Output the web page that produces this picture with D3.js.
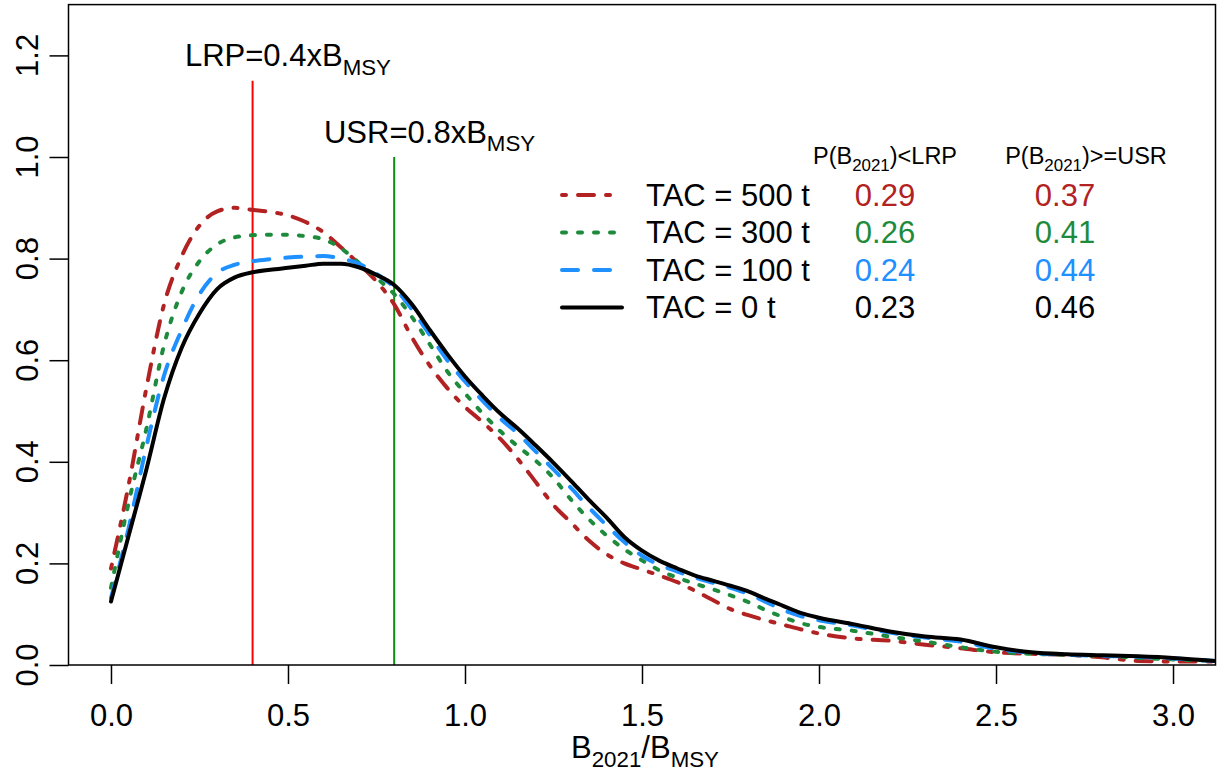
<!DOCTYPE html>
<html>
<head>
<meta charset="utf-8">
<script src="https://cdn.jsdelivr.net/npm/d3@7/dist/d3.min.js"></script>
<style>
  html, body { margin: 0; padding: 0; background: #fff; }
  svg { display: block; font-family: "Liberation Sans", Arial, sans-serif; }
</style>
</head>
<body>
<svg id="chart" width="1217" height="780"></svg>
<script>
// ---- data ----
const xs = [0, 0.05, 0.1, 0.15, 0.2, 0.25, 0.3, 0.35, 0.4, 0.45, 0.5, 0.55, 0.6, 0.65, 0.7, 0.75, 0.8, 0.85, 0.9, 0.95,
            1.0, 1.05, 1.1, 1.15, 1.2, 1.25, 1.3, 1.35, 1.4, 1.45, 1.5, 1.55, 1.6, 1.65, 1.7, 1.75, 1.8, 1.85, 1.9, 1.95,
            2.0, 2.1, 2.2, 2.3, 2.4, 2.5, 2.6, 2.7, 2.8, 2.9, 3.0, 3.12];
const tac0 = [0.125, 0.255, 0.385, 0.525, 0.625, 0.692, 0.74, 0.763, 0.773, 0.778, 0.782, 0.786, 0.79, 0.79, 0.783, 0.768, 0.748, 0.71, 0.66, 0.612,
              0.568, 0.53, 0.495, 0.465, 0.432, 0.398, 0.362, 0.325, 0.29, 0.252, 0.225, 0.205, 0.19, 0.176, 0.166, 0.156, 0.145, 0.13, 0.116, 0.102,
              0.093, 0.08, 0.066, 0.056, 0.05, 0.035, 0.025, 0.021, 0.019, 0.017, 0.014, 0.008];
const tac100 = [0.132, 0.27, 0.43, 0.57, 0.66, 0.73, 0.772, 0.788, 0.795, 0.799, 0.802, 0.804, 0.805, 0.8, 0.79, 0.77, 0.743, 0.7, 0.65, 0.6,
                0.558, 0.52, 0.485, 0.455, 0.42, 0.385, 0.348, 0.31, 0.275, 0.242, 0.215, 0.197, 0.184, 0.172, 0.162, 0.152, 0.14, 0.124, 0.108, 0.096,
                0.088, 0.077, 0.064, 0.054, 0.046, 0.032, 0.024, 0.02, 0.018, 0.016, 0.013, 0.008];
const tac300 = [0.152, 0.32, 0.465, 0.63, 0.735, 0.795, 0.828, 0.842, 0.846, 0.847, 0.847, 0.844, 0.838, 0.82, 0.792, 0.762, 0.73, 0.685, 0.632, 0.578,
                0.535, 0.495, 0.46, 0.43, 0.402, 0.368, 0.325, 0.287, 0.255, 0.228, 0.206, 0.186, 0.172, 0.16, 0.149, 0.137, 0.124, 0.108, 0.094, 0.082,
                0.075, 0.067, 0.056, 0.046, 0.035, 0.026, 0.022, 0.02, 0.018, 0.014, 0.011, 0.008];
const tac500 = [0.19, 0.355, 0.545, 0.71, 0.805, 0.865, 0.893, 0.9, 0.896, 0.892, 0.885, 0.872, 0.852, 0.822, 0.79, 0.755, 0.71, 0.645, 0.59, 0.545,
                0.508, 0.478, 0.445, 0.405, 0.36, 0.315, 0.28, 0.245, 0.218, 0.2, 0.188, 0.176, 0.163, 0.146, 0.128, 0.11, 0.098, 0.088, 0.079, 0.07,
                0.062, 0.052, 0.048, 0.04, 0.033, 0.025, 0.022, 0.02, 0.015, 0.008, 0.007, 0.007];

const seriesNames = ["TAC = 500 t", "TAC = 300 t", "TAC = 100 t", "TAC = 0 t"];
const probLRP = ["0.29", "0.26", "0.24", "0.23"];
const probUSR = ["0.37", "0.41", "0.44", "0.46"];
const xTicks = [0, 0.5, 1.0, 1.5, 2.0, 2.5, 3.0];
const yTicks = [0, 0.2, 0.4, 0.6, 0.8, 1.0, 1.2];
const refPoints = [0.4, 0.8];      // LRP, USR
const refTops = [1.15, 1.0];

// ---- styles ----
const seriesData = [tac500, tac300, tac100, tac0];
const colors = ["#B22222", "#1E8B3C", "#1E90FF", "#000000"];
const dashes = ["4,12,16,12", "4,12", "16,16", null];
const lineW = 4;

const svg = d3.select("#chart");
const x = d3.scaleLinear().domain([-0.12, 3.12]).range([68.5, 1215.5]);
const y = d3.scaleLinear().domain([0, 1.3]).range([665, 4.6]);
const FS = 31;

svg.append("defs").append("clipPath").attr("id", "clip")
  .append("rect").attr("x", x.range()[0]).attr("y", y.range()[1])
  .attr("width", x.range()[1] - x.range()[0]).attr("height", y.range()[0] - y.range()[1]);

// reference lines
const refColors = ["#FF0000", "#118A11"];
refPoints.forEach((r, i) => {
  svg.append("line").attr("x1", x(r)).attr("x2", x(r)).attr("y1", y(0)).attr("y2", y(refTops[i]))
    .attr("stroke", refColors[i]).attr("stroke-width", 2);
});

// curves
const line = d3.line().x(d => x(d[0])).y(d => y(d[1])).curve(d3.curveMonotoneX);
const g = svg.append("g").attr("clip-path", "url(#clip)");
seriesData.forEach((s, i) => {
  g.append("path").datum(xs.map((v, j) => [v, s[j]]))
    .attr("d", line).attr("fill", "none").attr("stroke", colors[i])
    .attr("stroke-width", lineW).attr("stroke-linecap", "round").attr("stroke-linejoin", "round")
    .attr("stroke-dasharray", dashes[i]);
});

// box
svg.append("rect").attr("x", x.range()[0]).attr("y", y.range()[1])
  .attr("width", x.range()[1] - x.range()[0]).attr("height", y.range()[0] - y.range()[1])
  .attr("fill", "none").attr("stroke", "#000").attr("stroke-width", 1.5);

// axes
const xAxis = d3.axisBottom(x).tickValues(xTicks).tickFormat(d3.format(".1f")).tickSize(19).tickPadding(20);
const xg = svg.append("g").attr("transform", `translate(0,${y(0)})`).call(xAxis);
xg.select(".domain").remove();
xg.selectAll("line").attr("stroke", "#000").attr("stroke-width", 1.5);
xg.selectAll("text").attr("font-size", FS).attr("font-family", "Liberation Sans, Arial, sans-serif").attr("fill", "#000");

const yAxis = d3.axisLeft(y).tickValues(yTicks).tickFormat(d3.format(".1f")).tickSize(19).tickPadding(0);
const yg = svg.append("g").attr("transform", `translate(${x.range()[0]},0)`).call(yAxis);
yg.select(".domain").remove();
yg.selectAll("line").attr("stroke", "#000").attr("stroke-width", 1.5);
yg.selectAll("text").remove();
yTicks.forEach(t => {
  svg.append("text").attr("transform", `translate(27,${y(t)}) rotate(-90)`)
    .attr("text-anchor", "middle").attr("dominant-baseline", "central")
    .attr("font-size", FS).text(d3.format(".1f")(t));
});

// helper for text with subscript parts: parts = [[text, isSub], ...]
function richText(sel, parts, size) {
  parts.forEach(p => {
    const t = sel.append("tspan").text(p[0]);
    if (p[1]) {
      t.attr("font-size", size * 0.72).attr("dy", size * 0.28);
    } else {
      t.attr("font-size", size);
      if (sel.node().childNodes.length > 1) t.attr("dy", -size * 0.28);
    }
  });
}

// axis title
const xt = svg.append("text").attr("x", 645).attr("y", 758).attr("text-anchor", "middle");
richText(xt, [["B", false], ["2021", true], ["/B", false], ["MSY", true]], FS);

// reference labels
const lrp = svg.append("text").attr("x", x(0.5)).attr("y", y(1.2) + 11).attr("text-anchor", "middle");
richText(lrp, [["LRP=0.4xB", false], ["MSY", true]], FS);
const usr = svg.append("text").attr("x", x(0.9)).attr("y", y(1.05) + 11).attr("text-anchor", "middle");
richText(usr, [["USR=0.8xB", false], ["MSY", true]], FS);

// legend
const rowY = [195, 232.5, 270, 307.5];
const hFS = 23.5;
const h1 = svg.append("text").attr("x", 885).attr("y", 164).attr("text-anchor", "middle");
richText(h1, [["P(B", false], ["2021", true], [")<LRP", false]], hFS);
const h2 = svg.append("text").attr("x", 1086).attr("y", 164).attr("text-anchor", "middle");
richText(h2, [["P(B", false], ["2021", true], [")>=USR", false]], hFS);

seriesNames.forEach((name, i) => {
  svg.append("line").attr("x1", 562).attr("x2", 622).attr("y1", rowY[i]).attr("y2", rowY[i])
    .attr("stroke", colors[i]).attr("stroke-width", lineW).attr("stroke-linecap", "round")
    .attr("stroke-dasharray", dashes[i]);
  svg.append("text").attr("x", 646).attr("y", rowY[i]).attr("dominant-baseline", "central")
    .attr("font-size", FS).text(name);
  svg.append("text").attr("x", 885).attr("y", rowY[i]).attr("dominant-baseline", "central")
    .attr("text-anchor", "middle").attr("font-size", FS).attr("fill", colors[i]).text(probLRP[i]);
  svg.append("text").attr("x", 1065).attr("y", rowY[i]).attr("dominant-baseline", "central")
    .attr("text-anchor", "middle").attr("font-size", FS).attr("fill", colors[i]).text(probUSR[i]);
});
</script>
</body>
</html>
